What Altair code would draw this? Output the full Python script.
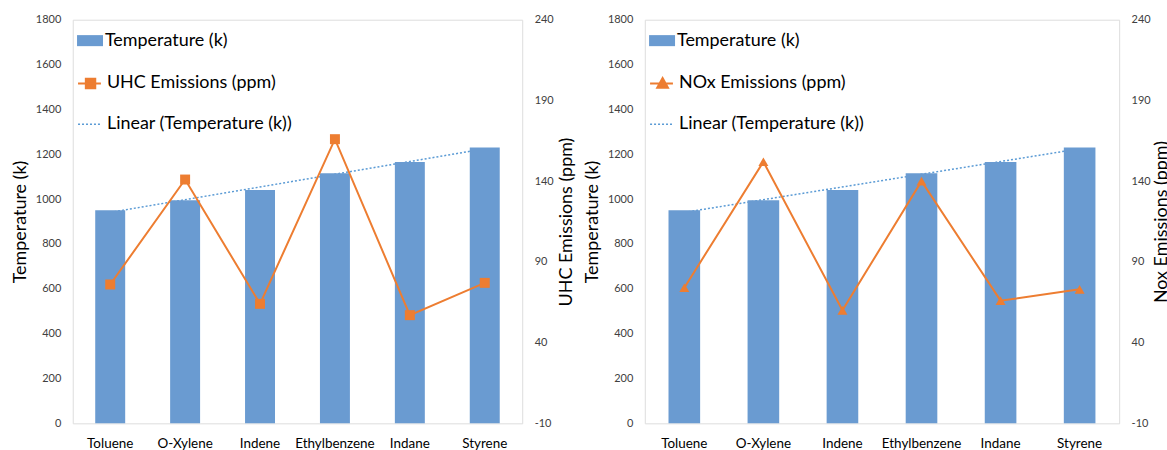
import altair as alt

categories = ["Toluene", "O-Xylene", "Indene", "Ethylbenzene", "Indane", "Styrene"]
temperature = [950, 995, 1040, 1115, 1165, 1230]
uhc_emissions = [76, 141, 64, 166, 57, 77]
nox_emissions = [74, 152, 60, 140, 66, 73]

temp_ticks = [0, 200, 400, 600, 800, 1000, 1200, 1400, 1600, 1800]
emis_ticks = [-10, 40, 90, 140, 190, 240]

temp_label = "Temperature (k)"
trend_label = "Linear (Temperature (k))"
uhc_label = "UHC Emissions (ppm)"
nox_label = "NOx Emissions (ppm)"
uhc_axis_title = "UHC Emissions (ppm)"
nox_axis_title = "Nox Emissions (ppm)"

BLUE = "#6a9bd1"
TREND = "#5b9bd5"
ORANGE = "#ed7d31"
FONT = "Lato"
TXT = "#000000"
LAB = "#404040"

records = [
    {"cat": c, "idx": i + 1, "temp": t, "uhc": u, "nox": n,
     "s_temp": temp_label, "s_trend": trend_label}
    for i, (c, t, u, n) in enumerate(zip(categories, temperature, uhc_emissions, nox_emissions))
]

RECT_PATH = "M-1,-0.41H0.93V0.41H-1Z"
TREND_PATH = "M-1,0H0.7"
SQUARE_PATH = "M-1,0H0.7M-0.42,-0.35H0.28V0.35H-0.42Z"
TRI_PATH = "M-1,0H0.7M-0.07,-0.4L0.33,0.32H-0.47Z"


def legend(x, y, path, **kw):
    return alt.Legend(title=None, orient="none", legendX=x, legendY=y,
                      symbolType=path, symbolSize=729,
                      labelFont=FONT, labelFontSize=18, labelColor=TXT,
                      labelOffset=1, labelLimit=400, padding=0, **kw)


def panel(width, field, em_label, shape, em_path, axis_title, lx, rtp):
    data = alt.Data(values=records)
    x = alt.X("cat:N", sort=categories,
              scale=alt.Scale(paddingInner=0.6, paddingOuter=0.3),
              axis=alt.Axis(title=None, labelAngle=0, labelFont=FONT, labelFontSize=13.5,
                            labelColor=TXT, labelPadding=13.5, ticks=False, domain=False,
                            grid=False))
    yl_scale = alt.Scale(domain=[0, 1800], nice=False, zero=True)
    yl_axis = alt.Axis(title=temp_label, values=temp_ticks, labelExpr="datum.value + ''",
                       ticks=False, domain=False,
                       grid=False, labelFont=FONT, labelFontSize=11, labelColor=LAB,
                       labelPadding=12, titleFont=FONT, titleFontSize=18,
                       titleFontWeight="normal", titleColor=TXT, titlePadding=6)
    yr_scale = alt.Scale(domain=[-10, 240], nice=False, zero=False)
    yr_axis = alt.Axis(title=axis_title, orient="right", values=emis_ticks,
                       labelExpr="datum.value + ''", ticks=False,
                       domain=False, grid=False, labelFont=FONT, labelFontSize=11,
                       labelColor=LAB, labelPadding=12, titleFont=FONT, titleFontSize=18,
                       titleFontWeight="normal", titleColor=TXT, titlePadding=rtp,
                       titleAngle=270, titleBaseline="top")

    base = alt.Chart(data)
    trend = base.transform_regression("idx", "temp").transform_lookup(
        lookup="idx",
        from_=alt.LookupData(data=alt.Data(values=records), key="idx", fields=["cat", "s_trend"]),
    ).mark_line(strokeWidth=1.5, color=TREND).encode(
        x=x,
        y=alt.Y("temp:Q", scale=yl_scale, axis=yl_axis),
        strokeDash=alt.StrokeDash("s_trend:N",
                                  scale=alt.Scale(domain=[trend_label], range=[[2, 2]]),
                                  legend=legend(lx, 90.5, TREND_PATH, symbolStrokeColor=TREND,
                                                symbolStrokeWidth=1.5)),
    )
    bars = base.mark_bar(color=BLUE).encode(
        x=x,
        y=alt.Y("temp:Q", scale=yl_scale, axis=yl_axis),
        fill=alt.Fill("s_temp:N", scale=alt.Scale(domain=[temp_label], range=[BLUE]),
                      legend=legend(lx, 7.5, RECT_PATH, symbolStrokeWidth=0)),
    )
    line = base.transform_calculate(s_em=f"'{em_label}'").mark_line(strokeWidth=2).encode(
        x=x,
        y=alt.Y(f"{field}:Q", scale=yr_scale, axis=yr_axis),
        stroke=alt.Stroke("s_em:N", scale=alt.Scale(domain=[em_label], range=[ORANGE]),
                          legend=legend(lx, 49.5, em_path, symbolFillColor=ORANGE,
                                        symbolStrokeWidth=2)),
    )
    pts = base.mark_point(shape=shape, filled=True, size=100, opacity=1, color=ORANGE).encode(
        x=x,
        y=alt.Y(f"{field}:Q", scale=yr_scale, axis=yr_axis),
    )
    return alt.layer(alt.layer(trend, bars), alt.layer(line, pts)).resolve_scale(
        y="independent").properties(width=width, height=405)


left = panel(451, "uhc", uhc_label, "square", SQUARE_PATH, uhc_axis_title, 4.3, 4)
right = panel(476, "nox", nox_label, "triangle-up", TRI_PATH, nox_axis_title, 4.3, 2.5)

chart = alt.hconcat(left, right, spacing=6).resolve_scale(
    fill="independent", stroke="independent", strokeDash="independent"
).resolve_legend(
    fill="independent", stroke="independent", strokeDash="independent"
).properties(
    padding={"left": 10, "top": 12, "right": -5, "bottom": 0},
    background="white",
).configure_view(stroke="#404040", strokeWidth=1).configure(font=FONT)

chart.save("out.html", embed_options={"renderer": "svg", "actions": False})
